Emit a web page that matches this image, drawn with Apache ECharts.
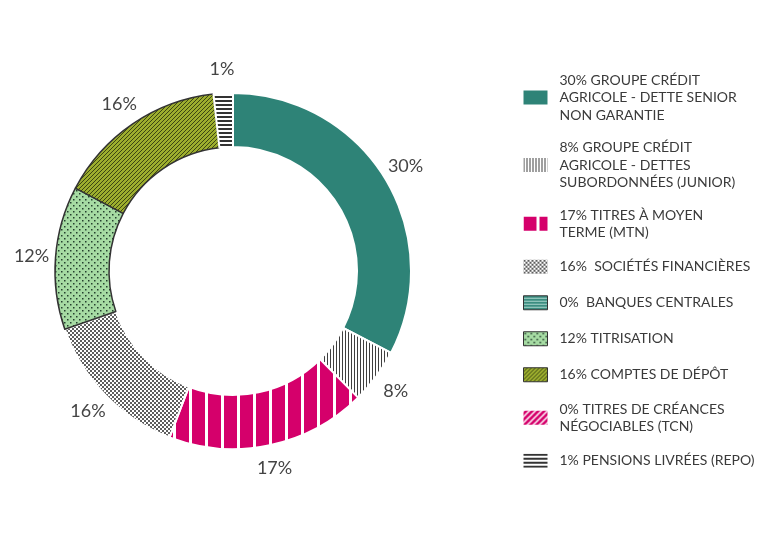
<!DOCTYPE html>
<html><head><meta charset="utf-8">
<script src="https://cdn.jsdelivr.net/npm/echarts@6/dist/echarts.min.js"></script>
<style>html,body{margin:0;padding:0;background:#fff}#c{width:778px;height:540px}</style>
</head><body><div id="c"></div>
<script>
// ---- data ----
const categories = [
  '30% GROUPE CRÉDIT\nAGRICOLE - DETTE SENIOR\nNON GARANTIE',
  '8% GROUPE CRÉDIT\nAGRICOLE - DETTES\nSUBORDONNÉES (JUNIOR)',
  '17% TITRES À MOYEN\nTERME (MTN)',
  '16%  SOCIÉTÉS FINANCIÈRES',
  '0%  BANQUES CENTRALES',
  '12% TITRISATION',
  '16% COMPTES DE DÉPÔT',
  '0% TITRES DE CRÉANCES\nNÉGOCIABLES (TCN)',
  '1% PENSIONS LIVRÉES (REPO)'
];
// percentage printed next to each slice
const percentLabels = ['30%', '8%', '17%', '16%', '0%', '12%', '16%', '0%', '1%'];
// slice sizes as drawn in the picture (share of the full ring, %)
const arcShares = [32.6, 5.0, 18.2, 13.9, 0, 13.0, 15.55, 0, 1.75];

// ---- styles ----
function tile(w, h, draw) {
  const c = document.createElement('canvas');
  c.width = w; c.height = h;
  const g = c.getContext('2d');
  draw(g, w, h);
  return { image: c, repeat: 'repeat' };
}
function diag(g, w, h, color, lw) {
  g.strokeStyle = color; g.lineWidth = lw;
  g.beginPath();
  g.moveTo(-1, h + 1); g.lineTo(w + 1, -1);
  g.moveTo(-1, 1); g.lineTo(1, -1);
  g.moveTo(w - 1, h + 1); g.lineTo(w + 1, h - 1);
  g.stroke();
}
const TEAL = '#2e8377', MAGENTA = '#d5006b';
const fills = [
  TEAL,
  tile(3, 3, (g) => { g.fillStyle = '#fff'; g.fillRect(0, 0, 3, 3); g.fillStyle = '#3f3f3f'; g.fillRect(0, 0, 1, 3); }),
  tile(16, 2, (g) => { g.fillStyle = MAGENTA; g.fillRect(0, 0, 16, 2); g.fillStyle = '#fff'; g.fillRect(13, 0, 3, 2); }),
  tile(4, 4, (g) => { g.fillStyle = '#fff'; g.fillRect(0, 0, 4, 4); g.fillStyle = '#5e5e5e'; g.fillRect(0, 0, 2, 2); g.fillRect(2, 2, 2, 2); }),
  tile(3, 3, (g) => { g.fillStyle = '#3b8d80'; g.fillRect(0, 0, 3, 3); g.fillStyle = '#a9d6cd'; g.fillRect(0, 2, 3, 1); }),
  tile(6, 6, (g) => { g.fillStyle = '#a6dba3'; g.fillRect(0, 0, 6, 6); g.fillStyle = '#24402e'; g.fillRect(1, 1, 1.5, 1.5); g.fillRect(4, 4, 1.5, 1.5); }),
  tile(4, 4, (g) => { g.fillStyle = '#9dae2e'; g.fillRect(0, 0, 4, 4); diag(g, 4, 4, '#3c4612', 1); }),
  tile(6, 6, (g) => { g.fillStyle = MAGENTA; g.fillRect(0, 0, 6, 6); diag(g, 6, 6, '#fff', 1.5); }),
  tile(2, 4, (g) => { g.fillStyle = '#fff'; g.fillRect(0, 0, 2, 4); g.fillStyle = '#333'; g.fillRect(0, 0, 2, 2); })
];
const darkEdge = [false, false, false, false, true, true, true, false, false];

const CENTER = [233, 271];

const option = {
  backgroundColor: '#fff',
  animation: false,
  legend: {
    orient: 'vertical',
    left: 523,
    top: 73,
    padding: 0,
    itemWidth: 24,
    itemHeight: 14,
    itemGap: 18.5,
    selectedMode: false,
    textStyle: {
      fontFamily: 'Lato',
      fontSize: 14,
      color: '#3a3a3a',
      lineHeight: 17.5,
      height: 17.5,
      padding: [0, 0, 0, 7]
    },
    data: categories.map((name, i) => ({
      name: name,
      icon: 'rect',
      itemStyle: darkEdge[i]
        ? { borderColor: '#333', borderWidth: 1 }
        : { borderColor: 'transparent', borderWidth: 0 }
    }))
  },
  series: [
    {
      type: 'pie',
      center: CENTER,
      radius: [124, 178],
      startAngle: 90,
      clockwise: true,
      avoidLabelOverlap: false,
      silent: true,
      emphasis: { disabled: true, scale: false },
      label: { show: false },
      labelLine: { show: false },
      data: arcShares.map((v, i) => ({
        name: categories[i],
        value: v,
        itemStyle: {
          color: fills[i],
          borderColor: v === 0 ? 'transparent' : (darkEdge[i] ? '#333' : '#fff'),
          borderWidth: v === 0 ? 0 : (darkEdge[i] ? 1.5 : 2)
        }
      }))
    },
    {
      type: 'pie',
      center: CENTER,
      radius: [189, 209],
      startAngle: 90,
      clockwise: true,
      avoidLabelOverlap: false,
      silent: true,
      emphasis: { disabled: true, scale: false },
      itemStyle: { color: 'transparent', borderWidth: 0 },
      labelLine: { show: false },
      label: {
        position: 'inside',
        fontFamily: 'Lato',
        fontSize: 18,
        color: '#444',
        formatter: (p) => percentLabels[p.dataIndex]
      },
      data: arcShares.map((v, i) => ({
        name: categories[i],
        value: v,
        label: { show: v > 0 }
      }))
    }
  ]
};

const chart = echarts.init(document.getElementById('c'), null, { renderer: 'canvas' });
chart.setOption(option);
</script>
</body></html>
